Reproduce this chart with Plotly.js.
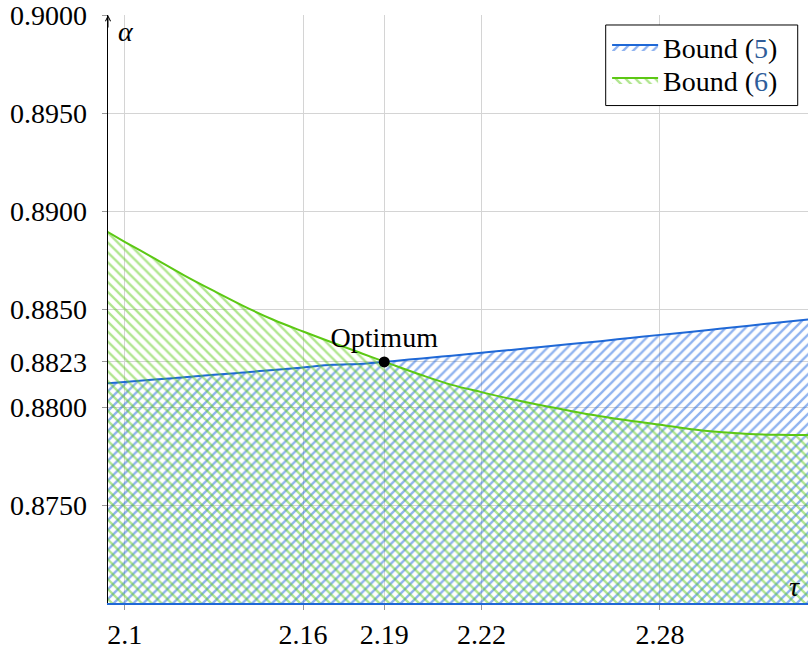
<!DOCTYPE html>
<html>
<head>
<meta charset="utf-8">
<script src="https://cdn.plot.ly/plotly-3.0.1.min.js"></script>
<style>
html,body{margin:0;padding:0;background:#fff;}
#chart{width:808px;height:649px;}
</style>
</head>
<body>
<div id="chart"></div>
<script>
// ---- data ----
const tau = [2.09, 2.10, 2.11, 2.12, 2.13, 2.14, 2.15, 2.16, 2.17, 2.18, 2.19, 2.20, 2.21,
             2.22, 2.23, 2.24, 2.25, 2.26, 2.27, 2.28, 2.29, 2.30, 2.31, 2.32, 2.33];
const bound5 = [0.88116, 0.88128, 0.88140, 0.88152, 0.88164, 0.88176, 0.88189, 0.88202, 0.88215,
                0.88221, 0.88234, 0.88248, 0.88262, 0.88277, 0.88291, 0.88306, 0.88321, 0.88336,
                0.88352, 0.88368, 0.88383, 0.88399, 0.88415, 0.88431, 0.88447];
const bound6 = [0.88930, 0.88843, 0.88758, 0.88672, 0.88592, 0.88515, 0.88445, 0.88385, 0.88328,
                0.88272, 0.88216, 0.88162, 0.88113, 0.88076, 0.88041, 0.88009, 0.87980, 0.87953,
                0.87930, 0.87910, 0.87888, 0.87872, 0.87862, 0.87858, 0.87857];
const optTau = [2.1873];
const optAlpha = [0.8823];
const optLabel = ['Optimum'];
const seriesNames = ['Bound (<span style="color:#2f5d9a">5</span>)', 'Bound (<span style="color:#2f5d9a">6</span>)'];
const xTickVals = [2.1, 2.16, 2.1873, 2.22, 2.28];
const xTickText = ['2.1', '2.16', '2.19', '2.22', '2.28'];
const yTickVals = [0.875, 0.88, 0.8823, 0.885, 0.89, 0.895, 0.9];
const yTickText = ['0.8750', '0.8800', '0.8823', '0.8850', '0.8900', '0.8950', '0.9000'];

const FONT = '"Liberation Serif", "DejaVu Serif", "Times New Roman", serif';
const BLUE = '#1f68d6';
const GREEN = '#5cc814';
const PAT_BLUE = '#1f66e0';
const PAT_GREEN = '#62cc1e';

const traces = [
  {
    x: tau, y: bound5, type: 'scatter', mode: 'lines', name: seriesNames[0],
    legend: 'legend',
    line: {color: BLUE, width: 2, shape: 'spline'},
    fill: 'tozeroy', fillcolor: 'rgba(0,0,0,0)',
    fillpattern: {shape: '/', fgcolor: PAT_BLUE, bgcolor: 'rgba(0,0,0,0)', fillmode: 'overlay', size: 7, solidity: 0.33},
    hoverinfo: 'skip'
  },
  {
    x: tau, y: bound6, type: 'scatter', mode: 'lines', name: seriesNames[1],
    legend: 'legend2',
    line: {color: GREEN, width: 2, shape: 'spline'},
    fill: 'tozeroy', fillcolor: 'rgba(0,0,0,0)',
    fillpattern: {shape: '\\', fgcolor: PAT_GREEN, bgcolor: 'rgba(0,0,0,0)', fillmode: 'overlay', size: 7, solidity: 0.33},
    hoverinfo: 'skip'
  },
  {
    x: optTau, y: optAlpha, type: 'scatter', mode: 'markers+text',
    text: optLabel, textposition: 'top center',
    textfont: {family: FONT, size: 28, color: '#000'},
    marker: {color: '#000', size: 11},
    showlegend: false, hoverinfo: 'skip', cliponaxis: false
  }
];

const legendCommon = {
  xanchor: 'left', yanchor: 'middle',
  bgcolor: 'rgba(0,0,0,0)', borderwidth: 0,
  font: {family: FONT, size: 28, color: '#000'},
  itemwidth: 46
};

const layout = {
  width: 808, height: 649,
  margin: {l: 108, r: 0, t: 15, b: 46, pad: 0},
  paper_bgcolor: '#fff', plot_bgcolor: '#fff',
  font: {family: FONT, size: 28, color: '#000'},
  showlegend: true,
  legend: Object.assign({x: 0.713, y: 0.945}, legendCommon),
  legend2: Object.assign({x: 0.713, y: 0.889}, legendCommon),
  xaxis: {
    range: [2.0944, 2.3298],
    tickmode: 'array', tickvals: xTickVals, ticktext: xTickText,
    ticks: 'outside', ticklen: 5, tickcolor: '#999', tickwidth: 1,
    showgrid: true, gridcolor: '#d4d4d4', gridwidth: 1,
    showline: true, linecolor: BLUE, linewidth: 2,
    zeroline: false,
    tickfont: {family: FONT, size: 28, color: '#000'}
  },
  yaxis: {
    range: [0.87, 0.9],
    tickmode: 'array', tickvals: yTickVals, ticktext: yTickText,
    ticks: 'outside', ticklen: 5, tickcolor: '#999', tickwidth: 1,
    ticklabelstandoff: 9, ticklabeloverflow: 'allow',
    showgrid: true, gridcolor: '#d4d4d4', gridwidth: 1,
    showline: true, linecolor: '#000', linewidth: 1.5,
    zeroline: false,
    tickfont: {family: FONT, size: 28, color: '#000'}
  },
  shapes: [
    {type: 'rect', xref: 'paper', yref: 'paper', x0: 0.711, x1: 0.9853, y0: 0.846, y1: 0.983,
     fillcolor: '#fff', line: {color: '#000', width: 1}, layer: 'above'}
  ],
  annotations: [
    {xref: 'paper', yref: 'paper', x: 0.026, y: 0.972, text: 'α', showarrow: false,
     xanchor: 'center', yanchor: 'middle', font: {family: FONT, size: 28, style: 'italic', color: '#000'}},
    {xref: 'paper', yref: 'paper', x: 0.98, y: 0.028, text: 'τ', showarrow: false,
     xanchor: 'center', yanchor: 'middle', font: {family: FONT, size: 28, style: 'italic', color: '#000'}},
    {xref: 'paper', yref: 'paper', x: 0, y: 1, text: '', showarrow: true,
     ax: 0, ay: 14, arrowhead: 5, arrowsize: 1, arrowwidth: 1, arrowcolor: '#000'}
  ]
};

Plotly.newPlot('chart', traces, layout, {displayModeBar: false, staticPlot: true});
</script>
</body>
</html>
